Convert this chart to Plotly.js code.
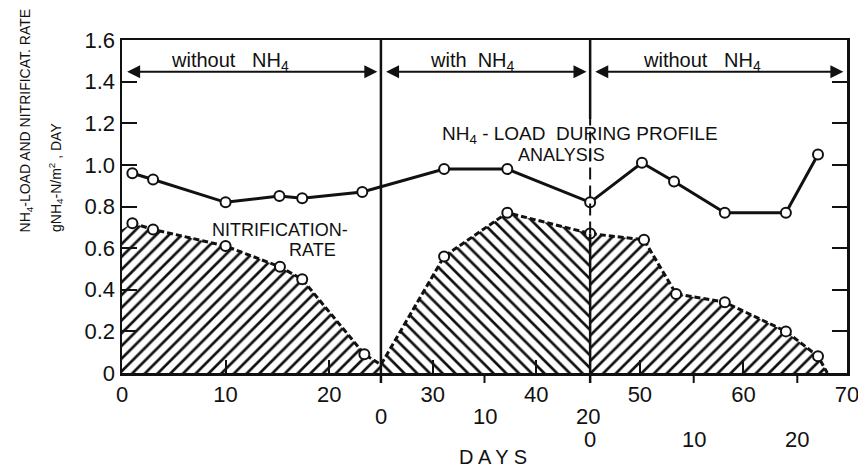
<!DOCTYPE html>
<html>
<head>
<meta charset="utf-8">
<script src="https://cdn.plot.ly/plotly-3.0.1.min.js"></script>
<style>
  html, body { margin: 0; padding: 0; background: #fff; }
  #chart { width: 858px; height: 470px; }
</style>
</head>
<body>
<div id="chart"></div>
<script>
// NH4 load applied during profile analysis (g NH4-N / m2 / day)
const loadDays = [1.0, 3.0, 10.0, 15.2, 17.4, 23.2, 31.1, 37.2, 45.2, 50.2, 53.3, 58.2, 64.1, 67.2];
const loadRate = [0.96, 0.93, 0.82, 0.85, 0.84, 0.87, 0.98, 0.98, 0.82, 1.01, 0.92, 0.77, 0.77, 1.05];

// Nitrification rate, one array pair per operating period
const p1Days = [1.0, 3.0, 10.0, 15.25, 17.4, 23.4];
const p1Rate = [0.72, 0.69, 0.61, 0.51, 0.45, 0.09];
const p2Days = [31.1, 37.2, 45.2];
const p2Rate = [0.56, 0.77, 0.67];
const p3Days = [50.4, 53.5, 58.2, 64.1, 67.2];
const p3Rate = [0.64, 0.38, 0.34, 0.20, 0.08];

// Where the hatched area meets the axis frame / period change
const edgeStart = [0, 0.69];
const edgeDip = [25, 0.04];
const edgeEnd = [68.1, 0];

// Period boundaries on the day axis
const periodStart = [0, 25, 45.2];
const periodEnd = [25, 45.2, 70];
const periodLabels = ['without   NH<sub>4</sub>', 'with  NH<sub>4</sub>', 'without   NH<sub>4</sub>'];
const periodLabelX = [10.4, 33.8, 56.0];

// Axis ticks
const dayTicks = [0, 10, 20, 30, 40, 50, 60, 70];
const rateTicks = [0, 0.2, 0.4, 0.6, 0.8, 1.0, 1.2, 1.4, 1.6];
const rateTickText = ['0', '0.2', '0.4', '0.6', '0.8', '1.0', '1.2', '1.4', '1.6'];
const subTickText = ['0', '10', '20'];

const FONT = '"Liberation Sans", Arial, sans-serif';
const INK = '#111';

const fill1X = [edgeStart[0]].concat(p1Days, [edgeDip[0]]);
const fill1Y = [edgeStart[1]].concat(p1Rate, [edgeDip[1]]);
const fill2X = [edgeDip[0]].concat(p2Days);
const fill2Y = [edgeDip[1]].concat(p2Rate);
const fill3X = [p2Days[p2Days.length - 1]].concat(p3Days, [edgeEnd[0]]);
const fill3Y = [p2Rate[p2Rate.length - 1]].concat(p3Rate, [edgeEnd[1]]);

function hatch(x, y, shape) {
  return {
    x: x, y: y, type: 'scatter', mode: 'lines',
    line: {width: 0, color: INK},
    fill: 'tozeroy',
    fillcolor: 'rgba(255,255,255,0)',
    fillpattern: {shape: shape, size: 9, solidity: 0.3, fgcolor: INK, bgcolor: 'rgba(255,255,255,0)'},
    hoverinfo: 'skip', showlegend: false
  };
}

const nitrLineX = p1Days.concat([edgeDip[0]], p2Days, p3Days, [edgeEnd[0]]);
const nitrLineY = p1Rate.concat([edgeDip[1]], p2Rate, p3Rate, [edgeEnd[1]]);

const data = [
  hatch(fill1X, fill1Y, '/'),
  hatch(fill2X, fill2Y, '\\'),
  hatch(fill3X, fill3Y, '/'),
  {
    x: nitrLineX, y: nitrLineY, type: 'scatter', mode: 'lines',
    line: {color: INK, width: 3, dash: '6px,3px'},
    showlegend: false, hoverinfo: 'skip'
  },
  {
    x: p1Days.concat(p2Days, p3Days), y: p1Rate.concat(p2Rate, p3Rate),
    type: 'scatter', mode: 'markers', name: 'Nitrification rate',
    marker: {symbol: 'circle', size: 10, color: '#fff', line: {color: INK, width: 2}},
    showlegend: false
  },
  {
    x: loadDays, y: loadRate, type: 'scatter', mode: 'lines+markers', name: 'NH4-load',
    line: {color: INK, width: 3},
    marker: {symbol: 'circle', size: 10, color: '#fff', line: {color: INK, width: 2}},
    showlegend: false
  }
];

const shapes = [];
// period boundary at day 25: solid, running slightly below the axis
shapes.push({type: 'line', xref: 'x', yref: 'paper', x0: periodEnd[0], x1: periodEnd[0], y0: -0.03, y1: 1,
  line: {color: INK, width: 2.5}});
// second period change: solid top, dashed through the text, solid in the hatching
shapes.push({type: 'line', xref: 'x', yref: 'y', x0: periodEnd[1], x1: periodEnd[1], y0: 1.22, y1: 1.6,
  line: {color: INK, width: 2.5}});
shapes.push({type: 'line', xref: 'x', yref: 'y', x0: periodEnd[1], x1: periodEnd[1], y0: p2Rate[p2Rate.length - 1], y1: 1.22,
  line: {color: INK, width: 2, dash: '12px,6px'}});
shapes.push({type: 'line', xref: 'x', yref: 'y', x0: periodEnd[1], x1: periodEnd[1], y0: 0, y1: p2Rate[p2Rate.length - 1],
  line: {color: INK, width: 2.5}});
shapes.push({type: 'line', xref: 'x', yref: 'paper', x0: periodEnd[1], x1: periodEnd[1], y0: -0.03, y1: 0,
  line: {color: INK, width: 2.5}});
// outward ticks of the per-period day scales
[periodStart[1] + 10, periodStart[2] + 10, periodStart[2] + 20].forEach(function (d) {
  shapes.push({type: 'line', xref: 'x', yref: 'paper', x0: d, x1: d, y0: -0.03, y1: 0,
    line: {color: INK, width: 2}});
});

const annotations = [];
const arrowY = 1.447;
for (let i = 0; i < 3; i++) {
  annotations.push({
    x: periodEnd[i] - 0.35, y: arrowY, ax: periodStart[i] + 0.35, ay: arrowY,
    xref: 'x', yref: 'y', axref: 'x', ayref: 'y', text: '',
    showarrow: true, arrowhead: 2, startarrowhead: 2, arrowside: 'end+start',
    arrowsize: 1.3, startarrowsize: 1.3, arrowwidth: 2, arrowcolor: INK, standoff: 0, startstandoff: 0
  });
  annotations.push({
    x: periodLabelX[i], y: 1.495, xref: 'x', yref: 'y', xanchor: 'center', yanchor: 'middle',
    text: periodLabels[i], showarrow: false, font: {family: FONT, size: 20, color: INK}
  });
}
function label(x, y, text, size) {
  return {x: x, y: y, xref: 'x', yref: 'y', xanchor: 'center', yanchor: 'middle', showarrow: false,
    text: text, font: {family: FONT, size: size, color: INK}};
}
annotations.push(label(44.2, 1.144, 'NH<sub>4</sub> - LOAD  DURING PROFILE', 19));
annotations.push(label(42.4, 1.048, 'ANALYSIS', 18));
annotations.push(label(15.25, 0.688, 'NITRIFICATION-', 18));
annotations.push(label(18.4, 0.591, 'RATE', 18));

// per-period day scales below the main one
const subRows = [-0.132, -0.201];
[1, 2].forEach(function (p, row) {
  subTickText.forEach(function (t, k) {
    annotations.push({x: periodStart[p] + 10 * k, y: subRows[row], xref: 'x', yref: 'paper',
      xanchor: 'center', yanchor: 'middle',
      text: t, showarrow: false, font: {family: FONT, size: 22, color: INK}});
  });
});
annotations.push({x: 35.8, y: -0.291, xref: 'x', yref: 'paper', xanchor: 'center', yanchor: 'bottom',
  showarrow: false, text: 'D A Y S', font: {family: FONT, size: 20, color: INK}});

// two-line rotated y title, both lines starting at the same height
annotations.push({x: -0.132, y: 0.417, xref: 'paper', yref: 'paper', xanchor: 'center', yanchor: 'bottom',
  textangle: -90, showarrow: false, text: 'NH<sub>4</sub>-LOAD AND NITRIFICAT. RATE',
  font: {family: FONT, size: 14, color: INK}});
annotations.push({x: -0.092, y: 0.417, xref: 'paper', yref: 'paper', xanchor: 'center', yanchor: 'bottom',
  textangle: -90, showarrow: false, text: 'gNH<sub>4</sub>-N/m<sup>2</sup> , DAY',
  font: {family: FONT, size: 14, color: INK}});

const layout = {
  width: 858, height: 470,
  margin: {l: 122, r: 11, t: 40, b: 97},
  paper_bgcolor: '#fff', plot_bgcolor: '#fff',
  showlegend: false,
  xaxis: {
    range: [0, 70], tickvals: dayTicks, ticktext: dayTicks.map(String),
    ticks: 'inside', ticklen: 13, tickwidth: 2, tickcolor: INK,
    showline: true, linewidth: 2.5, linecolor: INK, mirror: true,
    showgrid: false, zeroline: false, ticklabeloverflow: 'allow',
    tickfont: {family: FONT, size: 22, color: INK}
  },
  yaxis: {
    range: [0, 1.6], tickvals: rateTicks, ticktext: rateTickText,
    ticks: 'inside', ticklen: 15, tickwidth: 2, tickcolor: INK,
    showline: true, linewidth: 2.5, linecolor: INK, mirror: 'ticks',
    showgrid: false, zeroline: false,
    tickfont: {family: FONT, size: 22, color: INK}
  },
  shapes: shapes,
  annotations: annotations
};

Plotly.newPlot('chart', data, layout, {displayModeBar: false, staticPlot: true});
</script>
</body>
</html>
